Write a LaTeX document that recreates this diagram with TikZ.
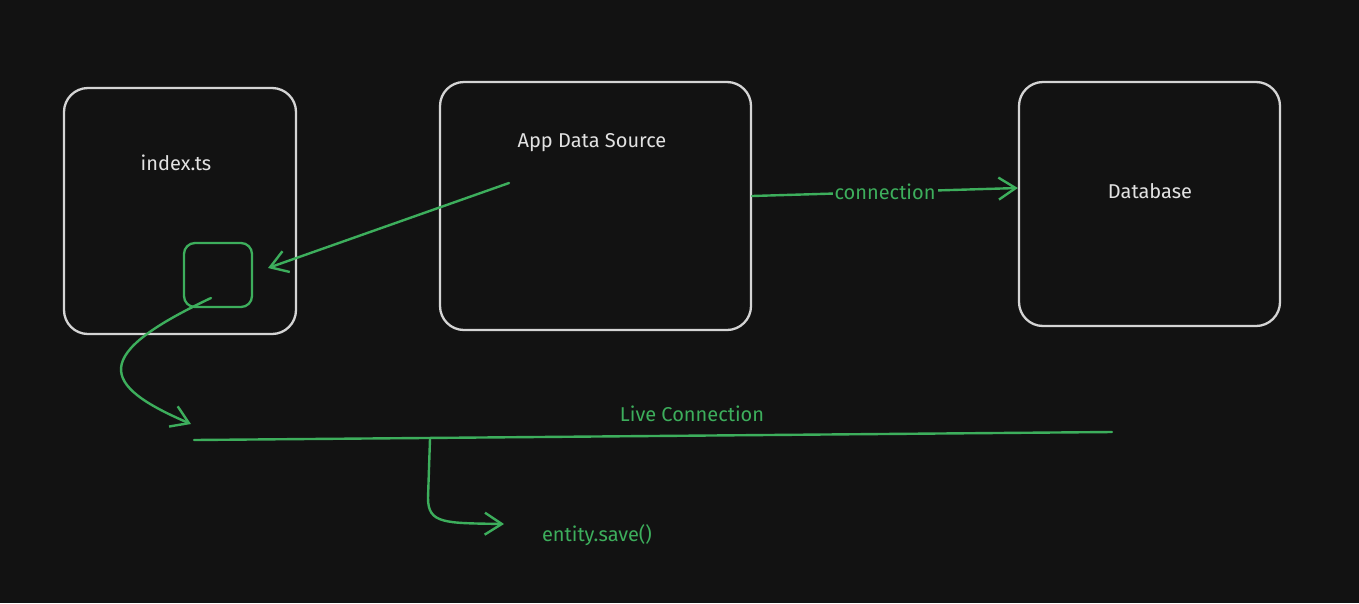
\documentclass[tikz,border=0pt]{standalone}
\usepackage{fontspec}
\setmainfont{Fira Sans}
\usetikzlibrary{arrows.meta}
\definecolor{bg}{HTML}{121212}
\definecolor{boxc}{HTML}{D4D4D4}
\definecolor{txtc}{HTML}{E2E2E2}
\definecolor{grn}{HTML}{3DAE5C}
\tikzset{
  box/.style={draw=boxc, line width=2.3pt, rounded corners=24pt, inner sep=0pt},
  smallbox/.style={draw=grn, line width=2.3pt, rounded corners=11pt, inner sep=0pt, minimum width=68pt, minimum height=64pt},
  lbl/.style={text=txtc, font=\fontsize{20}{24}\selectfont, inner sep=0pt},
  glbl/.style={text=grn, font=\fontsize{20}{24}\selectfont, inner sep=2pt},
  conn/.style={draw=grn, line width=2.4pt, line cap=round, line join=round},
  arr/.style={conn, -{Straight Barb[length=17pt,width=22pt,line width=2.4pt]}},
}
\begin{document}
\begin{tikzpicture}[x=1pt,y=-1pt]
\fill[bg] (0,0) rectangle (1359,603);
\useasboundingbox (0,0) rectangle (1359,603);
% boxes
\node[box, minimum width=232pt, minimum height=246pt] (index) at (180,211) {};
\node[box, minimum width=311pt, minimum height=248pt] (ads) at (595.5,206) {};
\node[box, minimum width=261pt, minimum height=244pt] (db) at (1149.5,204) {};
\node[smallbox] (small) at (218,275) {};
% labels
\node[lbl] (indext) at (176,163) {index.ts};
\node[lbl] (adst) at (592,143) {App Data Source};
\node[lbl] (dbt) at (1150,191) {Database};
% connector coordinates
\coordinate (adsfrom) at (509,183);
\coordinate (smallto) at (268,268);
\coordinate (smallfrom) at (211,298);
\coordinate (lcL) at (194,440);
\coordinate (lcR) at (1112,432);
\coordinate (lcArr) at (191,424);
\coordinate (lcDrop) at (430,439);
\coordinate (entTo) at (504,524);
% arrows
\draw[arr] (adsfrom) -- (smallto);
\draw[arr] (ads.east |- 0,196) -- node[glbl, fill=bg, pos=0.5] (connt) {connection} (db.west |- 0,188);
\draw[arr] (smallfrom) .. controls (90,355) and (100,385) .. (lcArr);
\draw[conn] (lcL) -- (lcR);
\node[glbl] (livet) at (692,414) {Live Connection};
\draw[arr] (lcDrop) -- (428,498) .. controls (428,524) and (445,523) .. (entTo);
\node[glbl] (entt) at (597,535) {entity.save()};
\end{tikzpicture}
\end{document}
